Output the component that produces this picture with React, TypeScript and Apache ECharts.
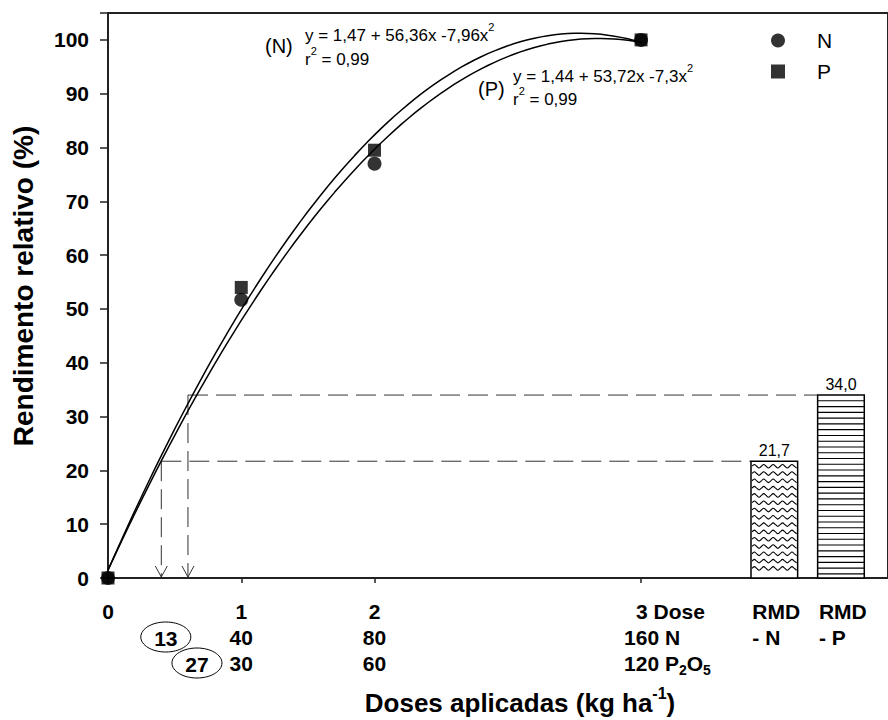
import React, { useEffect, useRef } from 'react';
import * as echarts from 'echarts';

const FONT = '"Liberation Sans", Arial, Helvetica, sans-serif';

// Dose positions on the x scale and relative yield measured for each nutrient
const doseLevels = [0, 1, 2, 4];
const relYieldN = [0, 51.7, 77.0, 100];
const relYieldP = [0, 54.0, 79.5, 100];

// Quadratic fits, y = a + b·x + c·x²
const fitN = [1.47, 56.36, -7.96];
const fitP = [1.44, 53.72, -7.3];

// Relative yield without fertiliser (RMD) for each nutrient
const rmdSlots = [5, 5.5];
const rmdValues = [21.7, 34.0];
// Doses at which the fitted curves reach each RMD level, and their kg value
const rmdDoses = [0.4, 0.6];
const rmdKg = ['13', '27'];

// X tick labels: dose code, N rate, P2O5 rate
const xTickValues = [0, 1, 2, 4];
const doseCodes = ['0', '1', '2', '3 Dose'];
const nRates = ['', '40', '80', '160 N'];
const pRates = ['', '30', '60', '120 P₂O₅'];
const rmdRow1 = ['RMD', 'RMD'];
const rmdRow2 = ['- N', '- P'];

const yMin = 0;
const yMax = 105;
const yStep = 10;
const xMax = 5.853;

const BAR_HALF = 0.175;
const TICK_FS = 21;
const EQ_FS = 17;

const fit = (c: number[], x: number) => c[0] + c[1] * x + c[2] * x * x;
const curveXs = Array.from({ length: 81 }, (_, i) => i * 0.05);

let measureCtx: CanvasRenderingContext2D | null = null;
function textWidth(t: string, size: number, weight: string) {
  if (!measureCtx) measureCtx = document.createElement('canvas').getContext('2d');
  measureCtx!.font = `${weight} ${size}px ${FONT}`;
  return measureCtx!.measureText(t).width;
}

type Part = { t: string; size: number; dy: number };

// Lays out a line of text whose pieces may be raised or lowered (sup/subscripts)
function richLine(parts: Part[], x: number, y: number, weight: string, align: 'left' | 'center') {
  const widths = parts.map((p) => textWidth(p.t, p.size, weight));
  const total = widths.reduce((a, b) => a + b, 0);
  let cx = align === 'center' ? x - total / 2 : x;
  const out: any[] = [];
  parts.forEach((p, i) => {
    out.push({
      type: 'text',
      x: cx,
      y: y + p.dy,
      silent: true,
      style: {
        text: p.t,
        font: `${weight} ${p.size}px ${FONT}`,
        fill: '#000',
        align: 'left',
        verticalAlign: 'middle',
      },
    });
    cx += widths[i];
  });
  return out;
}

const SUBS: Record<string, string> = { '₂': '2', '₅': '5' };
function subParts(text: string, size: number, subSize: number, dy: number): Part[] {
  const parts: Part[] = [];
  let buf = '';
  for (const ch of text) {
    if (SUBS[ch]) {
      if (buf) parts.push({ t: buf, size, dy: 0 });
      buf = '';
      parts.push({ t: SUBS[ch], size: subSize, dy });
    } else buf += ch;
  }
  if (buf) parts.push({ t: buf, size, dy: 0 });
  return parts;
}

export default function App() {
  const ref = useRef<HTMLDivElement>(null);

  useEffect(() => {
    const chart = echarts.init(ref.current!, null, { renderer: 'svg' });

    const option: any = {
      animation: false,
      backgroundColor: '#fff',
      textStyle: { fontFamily: FONT },
      grid: {
        left: 108,
        top: 13,
        width: 782,
        height: 565,
        show: true,
        borderColor: '#222',
        borderWidth: 2,
      },
      legend: {
        orient: 'vertical',
        left: 766,
        top: 25,
        itemWidth: 14,
        itemHeight: 14,
        itemGap: 10,
        selectedMode: false,
        textStyle: { fontSize: 21, color: '#000', fontFamily: FONT, padding: [0, 0, 0, 27], lineHeight: 18 },
        data: [
          { name: 'N', icon: 'circle' },
          { name: 'P', icon: 'rect' },
        ],
      },
      xAxis: {
        type: 'value',
        min: 0,
        max: xMax,
        splitLine: { show: false },
        axisLine: { show: true, onZero: false, lineStyle: { color: '#222', width: 1.5 } },
        axisTick: { show: true, inside: false, length: 5, customValues: xTickValues, lineStyle: { color: '#222', width: 1.5 } },
        axisLabel: { show: false },
      },
      yAxis: {
        type: 'value',
        min: yMin,
        max: yMax,
        interval: yStep,
        splitLine: { show: false },
        axisLine: { show: true, lineStyle: { color: '#222', width: 1.5 } },
        axisTick: { show: true, inside: false, length: 8, lineStyle: { color: '#222', width: 1.5 } },
        axisLabel: {
          margin: 19,
          fontSize: TICK_FS,
          fontWeight: 'bold',
          color: '#000',
          fontFamily: FONT,
          formatter: (v: number) => (v > 100 ? '' : String(v)),
        },
      },
      series: [
        {
          name: 'fitN',
          type: 'line',
          data: curveXs.map((x) => [x, fit(fitN, x)]),
          showSymbol: false,
          lineStyle: { color: '#000', width: 1.5 },
          z: 3,
        },
        {
          name: 'fitP',
          type: 'line',
          data: curveXs.map((x) => [x, fit(fitP, x)]),
          showSymbol: false,
          lineStyle: { color: '#000', width: 1.5 },
          z: 3,
        },
        {
          name: 'guides',
          type: 'custom',
          z: 2,
          data: rmdValues.map((v, i) => [rmdDoses[i], v, rmdSlots[i]]),
          renderItem: (params: any, api: any) => {
            const dose = api.value(0);
            const v = api.value(1);
            const slot = api.value(2);
            const p0 = api.coord([dose, v]);
            const p1 = api.coord([slot - BAR_HALF, v]);
            const p2 = api.coord([dose, 0]);
            const dash = { stroke: '#333', lineWidth: 1, lineDash: [20, 8] };
            return {
              type: 'group',
              children: [
                { type: 'line', shape: { x1: p0[0], y1: p0[1], x2: p1[0], y2: p1[1] }, style: dash },
                { type: 'line', shape: { x1: p0[0], y1: p0[1], x2: p2[0], y2: p2[1] - 1 }, style: dash },
                {
                  type: 'polyline',
                  shape: { points: [[p2[0] - 6, p2[1] - 12], [p2[0], p2[1] - 1], [p2[0] + 6, p2[1] - 12]] },
                  style: { stroke: '#333', lineWidth: 1, fill: 'none' },
                },
              ],
            };
          },
        },
        {
          name: 'RMD',
          type: 'custom',
          z: 4,
          data: rmdValues.map((v, i) => [rmdSlots[i], v, i]),
          renderItem: (params: any, api: any) => {
            const x = api.value(0);
            const v = api.value(1);
            const idx = api.value(2);
            const [xl, yt] = api.coord([x - BAR_HALF, v]);
            const [xr, yb] = api.coord([x + BAR_HALF, 0]);
            const children: any[] = [
              { type: 'rect', shape: { x: xl, y: yt, width: xr - xl, height: yb - yt }, style: { fill: '#fff' } },
            ];
            if (idx === 0) {
              // wavy rows with a light stipple between them
              let row = 0;
              for (let y = yt + 5; y < yb - 3; y += 7.3, row++) {
                const pts: number[][] = [];
                let k = 0;
                for (let px = xl + 1; px <= xr - 0.5; px += 2.35, k++) {
                  const ph = k % 4;
                  pts.push([px, y + (ph === 1 ? -1.8 : ph === 3 ? 1.8 : 0)]);
                }
                children.push({ type: 'polyline', shape: { points: pts, smooth: 0.4 }, style: { stroke: '#000', lineWidth: 1.1, fill: 'none' } });
                const dy = y + 3.8;
                if (dy < yb - 1) {
                  for (let px = xl + 3 + (row % 2) * 2.3; px < xr - 1; px += 4.7) {
                    children.push({ type: 'circle', shape: { cx: px, cy: dy, r: 0.65 }, style: { fill: '#222' } });
                  }
                }
              }
            } else {
              for (let y = yt + 5.77; y < yb - 1; y += 5.77) {
                children.push({ type: 'line', shape: { x1: xl, y1: y, x2: xr, y2: y }, style: { stroke: '#000', lineWidth: 1.1 } });
              }
            }
            children.push({
              type: 'rect',
              shape: { x: xl, y: yt, width: xr - xl, height: yb - yt },
              style: { fill: 'none', stroke: '#000', lineWidth: 1.5 },
            });
            children.push({
              type: 'text',
              x: (xl + xr) / 2,
              y: yt - 11,
              style: {
                text: v.toFixed(1).replace('.', ','),
                font: `16px ${FONT}`,
                fill: '#000',
                align: 'center',
                verticalAlign: 'middle',
              },
            });
            return { type: 'group', children };
          },
        },
        {
          name: 'N',
          type: 'scatter',
          symbol: 'circle',
          symbolSize: 14,
          itemStyle: { color: '#000' },
          data: doseLevels.map((x, i) => [x, relYieldN[i]]),
          z: 5,
        },
        {
          name: 'P',
          type: 'scatter',
          symbol: 'rect',
          symbolSize: 13,
          itemStyle: { color: '#000' },
          data: doseLevels.map((x, i) => [x, relYieldP[i]]),
          z: 6,
        },
      ],
    };

    chart.setOption(option);

    const px = (x: number, y: number) => chart.convertToPixel({ gridIndex: 0 }, [x, y]) as number[];
    const y0 = px(0, 0)[1];
    const rows = [y0 + 33, y0 + 59, y0 + 85];
    const g: any[] = [];
    const B = 'bold';

    // x tick labels (three rows)
    xTickValues.forEach((v, i) => {
      const x = px(v, 0)[0];
      if (i < 3) {
        g.push(...richLine([{ t: doseCodes[i], size: TICK_FS, dy: 0 }], x, rows[0], B, 'center'));
        if (nRates[i]) g.push(...richLine([{ t: nRates[i], size: TICK_FS, dy: 0 }], x, rows[1], B, 'center'));
        if (pRates[i]) g.push(...richLine(subParts(pRates[i], TICK_FS, 14, 7), x, rows[2], B, 'center'));
      } else {
        g.push(...richLine([{ t: doseCodes[i], size: TICK_FS, dy: 0 }], x - 5, rows[0], B, 'left'));
        g.push(...richLine([{ t: nRates[i], size: TICK_FS, dy: 0 }], x - 17, rows[1], B, 'left'));
        g.push(...richLine(subParts(pRates[i], TICK_FS, 14, 7), x - 17, rows[2], B, 'left'));
      }
    });
    rmdSlots.forEach((s, i) => {
      const x = px(s, 0)[0] - 22;
      g.push(...richLine([{ t: rmdRow1[i], size: TICK_FS, dy: 0 }], x, rows[0], B, 'left'));
      g.push(...richLine([{ t: rmdRow2[i], size: TICK_FS, dy: 0 }], x, rows[1], B, 'left'));
    });

    // circled kg doses under the arrows
    const shift = [4.5, 9];
    rmdDoses.forEach((d, i) => {
      const cx = px(d, 0)[0] + shift[i];
      const cy = rows[i + 1];
      g.push({ type: 'ellipse', shape: { cx, cy, rx: 25, ry: 15 }, style: { fill: 'none', stroke: '#000', lineWidth: 1 } });
      g.push(...richLine([{ t: rmdKg[i], size: TICK_FS, dy: 0 }], cx, cy + 1, B, 'center'));
    });

    // regression equations
    const sup = (t: string): Part => ({ t, size: 11, dy: -8 });
    const reg = (t: string): Part => ({ t, size: EQ_FS, dy: 0 });
    g.push(...richLine([{ t: '(N)', size: 20, dy: 0 }], 265, 46, 'normal', 'left'));
    g.push(...richLine([reg('y = 1,47 + 56,36x -7,96x'), sup('2')], 305, 35, 'normal', 'left'));
    g.push(...richLine([reg('r'), sup('2'), reg(' = 0,99')], 305, 59, 'normal', 'left'));
    g.push(...richLine([{ t: '(P)', size: 20, dy: 0 }], 478, 89, 'normal', 'left'));
    g.push(...richLine([reg('y = 1,44 + 53,72x -7,3x'), sup('2')], 513, 76, 'normal', 'left'));
    g.push(...richLine([reg('r'), sup('2'), reg(' = 0,99')], 513, 99, 'normal', 'left'));

    // axis titles
    g.push(
      ...richLine(
        [
          { t: 'Doses aplicadas (kg ha', size: 26, dy: 0 },
          { t: '-1', size: 16, dy: -10 },
          { t: ')', size: 26, dy: 0 },
        ],
        520,
        703,
        B,
        'center'
      )
    );
    g.push({
      type: 'text',
      x: 23,
      y: 286,
      rotation: Math.PI / 2,
      silent: true,
      style: {
        text: 'Rendimento relativo (%)',
        font: `bold 28px ${FONT}`,
        fill: '#000',
        align: 'center',
        verticalAlign: 'middle',
      },
    });

    chart.setOption({ graphic: { elements: g } });

    return () => chart.dispose();
  }, []);

  return <div ref={ref} style={{ position: 'fixed', left: 0, top: 0, width: 888, height: 720, background: '#fff' }} />;
}
